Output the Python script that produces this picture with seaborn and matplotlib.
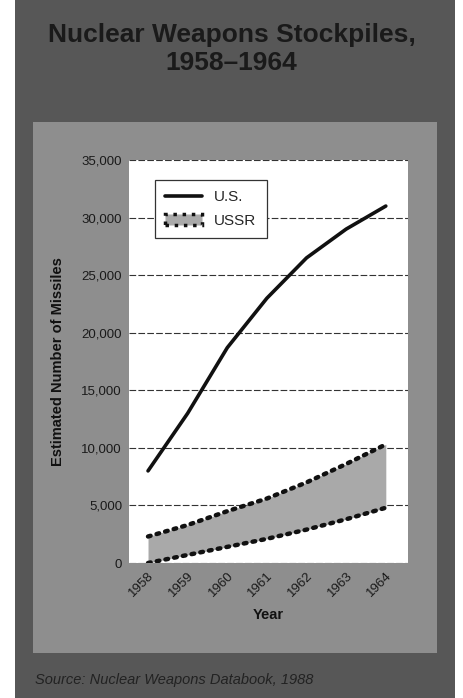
import numpy as np
import pandas as pd
import matplotlib
matplotlib.use("Agg")
import matplotlib.pyplot as plt
from matplotlib.patches import Rectangle, Patch
from matplotlib.lines import Line2D
import seaborn as sns

years = [1958, 1959, 1960, 1961, 1962, 1963, 1964]
us_missiles = [8000, 13000, 18700, 23000, 26500, 29000, 31000]
ussr_high = [2300, 3300, 4500, 5600, 7000, 8600, 10300]
ussr_low = [0, 700, 1400, 2100, 2900, 3800, 4800]
y_ticks = [0, 5000, 10000, 15000, 20000, 25000, 30000, 35000]

df = pd.DataFrame({"Year": years, "US": us_missiles,
                   "USSR_high": ussr_high, "USSR_low": ussr_low})

sns.set_style("white")
plt.rcParams['font.family'] = ['Liberation Sans', 'DejaVu Sans']

W, H = 463, 698
fig = plt.figure(figsize=(W / 100, H / 100), dpi=100)
fig.patch.set_facecolor("white")

# outer dark frame and lighter inner panel
fig.add_artist(Rectangle((15 / W, 0), 440 / W, 1, transform=fig.transFigure,
                         facecolor="#575757", edgecolor="none", zorder=0))
fig.add_artist(Rectangle((33 / W, (H - 653) / H), 404 / W, (653 - 122) / H,
                         transform=fig.transFigure, facecolor="#8e8e8e",
                         edgecolor="none", zorder=0))

ax = fig.add_axes([129 / W, (H - 563) / H, (408 - 129) / W, (563 - 160) / H])
ax.set_facecolor("white")

ax.fill_between(df["Year"], df["USSR_low"], df["USSR_high"],
                color="#a9a9a9", linewidth=0, zorder=2)
dot_style = dict(color="#111111", linewidth=3.2, dashes=(0.6, 1.4),
                 dash_capstyle="round", zorder=3)
sns.lineplot(data=df, x="Year", y="USSR_high", ax=ax, **dot_style)
sns.lineplot(data=df, x="Year", y="USSR_low", ax=ax, **dot_style)
sns.lineplot(data=df, x="Year", y="US", ax=ax, color="#111111",
             linewidth=2.6, zorder=4)

ax.set_xlim(1957.52, 1964.56)
ax.set_ylim(0, 35000)
ax.set_yticks(y_ticks)
ax.set_yticklabels([f"{v:,}" for v in y_ticks], fontsize=9.5, color="#1a1a1a")
ax.set_xticks(years)
ax.set_xticklabels([str(y) for y in years], rotation=45, fontsize=9.5,
                   color="#1a1a1a", ha="right", rotation_mode="anchor")
ax.tick_params(axis="both", length=3, color="#222222", pad=2)
ax.yaxis.grid(True, linestyle=(0, (6, 2)), color="#333333", linewidth=0.8)
ax.xaxis.grid(False)
ax.set_axisbelow(True)
for s in ax.spines.values():
    s.set_visible(False)

ax.set_xlabel("Year", fontsize=10.5, fontweight="bold", color="#111111", labelpad=6)
ax.set_ylabel("Estimated Number of Missiles", fontsize=10.5, fontweight="bold",
              color="#111111", labelpad=12)

handles = [Line2D([0], [0], color="#111111", linewidth=2.6),
           Patch(facecolor="#a9a9a9", edgecolor="#111111", linestyle=":",
                 linewidth=2.5)]
leg = ax.legend(handles, ["U.S.", "USSR"], loc="upper left",
                bbox_to_anchor=(0.065, 0.97), fontsize=11, frameon=True,
                fancybox=False, edgecolor="#333333", framealpha=1,
                handlelength=2.4, borderpad=0.7, labelspacing=0.6)
leg.get_frame().set_linewidth(0.9)

fig.text(0.5, 1 - 49 / H, "Nuclear Weapons Stockpiles,\n1958\u20131964",
         ha="center", va="center", fontsize=19, fontweight="bold",
         color="#1a1a1a", linespacing=1.2)
fig.text(35 / W, 1 - 680 / H, "Source: Nuclear Weapons Databook, 1988",
         ha="left", va="center", fontsize=10.5, style="italic", color="#222222")

fig.savefig("out.png", dpi=100)
